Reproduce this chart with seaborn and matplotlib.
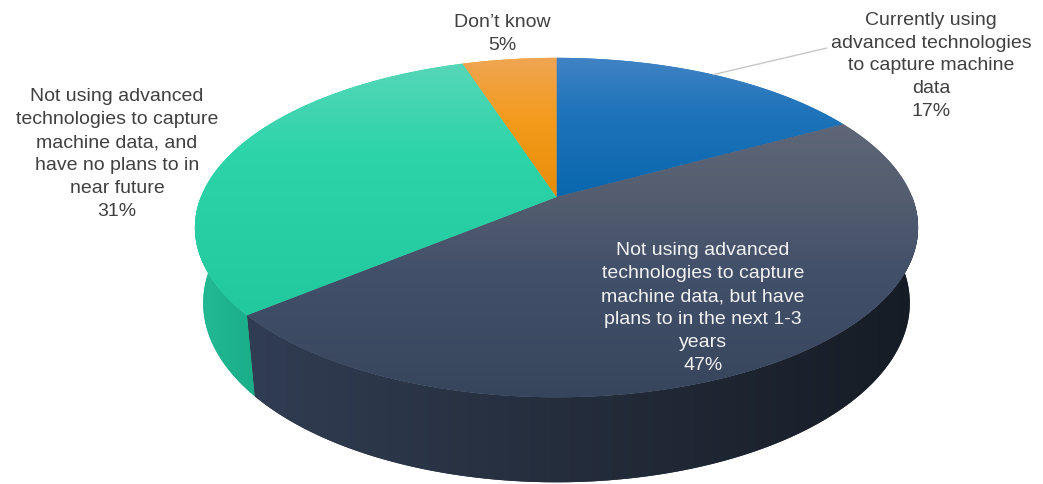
import numpy as np
import matplotlib
matplotlib.use("Agg")
import matplotlib.pyplot as plt
import seaborn as sns
from matplotlib.patches import Polygon
from matplotlib.colors import to_rgb

# ---------------- data ----------------
categories = [
    "Currently using\nadvanced technologies\nto capture machine\ndata",
    "Not using advanced\ntechnologies to capture\nmachine data, but have\nplans to in the next 1-3\nyears",
    "Not using advanced\ntechnologies to capture\nmachine data, and\nhave no plans to in\nnear future",
    "Don\u2019t know",
]
values = [17, 47, 31, 5]
pct_labels = ["17%", "47%", "31%", "5%"]

# ---------------- style ----------------
sns.set_style("white")
plt.rcParams["font.family"] = ["Liberation Sans", "DejaVu Sans"]

top_stops = [
    [(58, "#4083c4"), (110, "#2074ba"), (200, "#0866ad")],                     # blue
    [(120, "#5f6778"), (200, "#535d6f"), (270, "#43506a"), (400, "#37455c")],  # dark slate
    [(60, "#58d6b8"), (150, "#2dd4aa"), (330, "#21c89e")],                      # teal
    [(58, "#efa552"), (120, "#f49b1c"), (200, "#e78c08")],                     # orange
]
side_stops = [
    None,
    [(245, "#313d53"), (550, "#252e3d"), (920, "#161c25")],
    [(195, "#22ba95"), (255, "#1aae89")],
    None,
]
label_pos = [(931, 66), (703, 308), (117, 154), (502, 34)]
label_col = ["#404040", "#f2f2f2", "#404040", "#404040"]

W, H = 1043, 484
fig = plt.figure(figsize=(W / 100, H / 100), dpi=100)
ax = fig.add_axes([0, 0, 1, 1])
ax.set_xlim(0, W)
ax.set_ylim(H, 0)
ax.axis("off")

# perspective model of the pie (layout geometry)
CX, CY = 556.5, 197.0
phi = np.radians(27.5)
u, f, depth = 0.203, 1752.0, 0.049


def rim(theta_deg, bottom=False):
    t = np.radians(theta_deg)
    d = 1 + u * np.cos(phi) * np.sin(t) + (depth * np.sin(phi) if bottom else 0)
    x = CX + f * u * np.cos(t) / d
    yu = f * (u * np.sin(phi) * np.sin(t) - (depth * np.cos(phi) if bottom else 0)) / d
    return np.column_stack([x, CY - yu])


def gradient_fill(verts, stops, axis, z):
    patch = Polygon(verts, closed=True, facecolor=stops[len(stops) // 2][1],
                    edgecolor="none", zorder=z)
    ax.add_patch(patch)
    n = 600
    coords = np.linspace(0, H if axis == "y" else W, n)
    pos = [p for p, _ in stops]
    rgb = np.stack([np.interp(coords, pos, [to_rgb(c)[i] for _, c in stops])
                    for i in range(3)], axis=-1)
    img = rgb[:, None, :] if axis == "y" else rgb[None, :, :]
    im = ax.imshow(img, extent=(0, W, H, 0), origin="upper", aspect="auto",
                   interpolation="bilinear", zorder=z + 0.1)
    im.set_clip_path(patch)


# slice angles: start at 12 o'clock, clockwise
vals = np.array(values, dtype=float)
bounds = 90 - 360 * np.concatenate([[0], np.cumsum(vals) / vals.sum()])

# sides (front half only)
for i in range(len(values)):
    t1, t2 = bounds[i], bounds[i + 1]
    a, b = min(t1, 0), max(t2, -180)
    if side_stops[i] is None or a <= b:
        continue
    th = np.linspace(a, b, 300)
    verts = np.vstack([rim(th), rim(th[::-1], bottom=True)])
    gradient_fill(verts, side_stops[i], "x", 1)

# top faces
for i in range(len(values)):
    th = np.linspace(bounds[i], bounds[i + 1], 300)
    verts = np.vstack([[CX, CY], rim(th)])
    gradient_fill(verts, top_stops[i], "y", 3)

# leader line for first slice
mid = (bounds[0] + bounds[1]) / 2
p = rim(np.array([mid]))[0]
ax.plot([p[0], 827], [p[1], 48], color="#c8c8c8", lw=1.0, zorder=6)

# labels
for i in range(len(values)):
    ax.text(label_pos[i][0], label_pos[i][1], categories[i] + "\n" + pct_labels[i],
            ha="center", va="center", multialignment="center", fontsize=14,
            linespacing=1.46, color=label_col[i], zorder=7)

fig.savefig("out.png", dpi=100)
